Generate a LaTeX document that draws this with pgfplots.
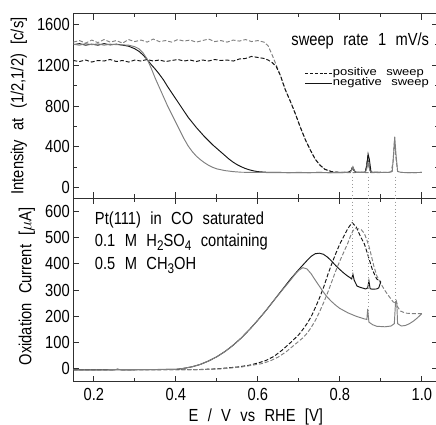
\documentclass[border=0pt]{standalone}
\usepackage{pgfplots}
\pgfplotsset{compat=1.18}
\usepackage{fontspec}
\setmainfont{Liberation Sans}[FakeStretch=0.84,WordSpace=2.3]
\newfontfamily\legfont{Liberation Sans}[FakeStretch=1.18,WordSpace=2.6]
\newcommand{\sub}[1]{\raisebox{-0.45ex}{\fontsize{14}{14}\selectfont #1}}
\definecolor{cblack}{HTML}{151515}
\definecolor{cgray}{HTML}{808080}
\definecolor{cdot}{HTML}{9A9A9A}
\definecolor{caxis}{HTML}{303030}
\pgfplotsset{
  myax/.style={
    scale only axis, width=364.9pt, height=184pt,
    xmin=0.15, xmax=1.04,
    xtick={0.2,0.4,0.6,0.8,1.0}, minor x tick num=1,
    tick align=inside, major tick length=6pt, minor tick length=3.5pt,
    axis line style={line width=1pt,color=caxis},
    every tick/.style={line width=0.9pt, caxis},
    /pgf/number format/assume math mode=true,
    /pgf/number format/1000 sep={},
    every axis plot/.append style={line width=0.95pt},
  },
  blk/.style={cblack},
  gry/.style={cgray},
  dsh/.style={dash pattern=on 4pt off 2pt},
  dot/.style={cdot, line width=1pt, dash pattern=on 1pt off 2.6pt},
}
\begin{document}
\begin{tikzpicture}[font=\fontsize{17.5}{21}\selectfont]
\path[use as bounding box] (0,0) rectangle (436pt,-425pt);

% ---------------- top axis ----------------
\begin{axis}[myax, at={(73.3pt,-14pt)}, anchor=north west,
  ymin=-100, ymax=1700, ytick={0,400,800,1200,1600}, minor y tick num=1,
  xticklabel=\empty,
  ylabel={Intensity at (1/2,1/2) [c/s]},
  ylabel style={at={(axis description cs:-0.149,0.5)}, anchor=center},
  legend style={at={(axis cs:0.714,1167)}, anchor=north west, draw=none, fill=none,
    font=\legfont\fontsize{11}{11}\selectfont, row sep=0pt, inner sep=0pt,
    nodes={inner sep=0.25pt, text height=7pt, text depth=2.5pt}},
  legend cell align=left,
  legend image code/.code={\draw[#1] (0pt,0pt) -- (27pt,0pt);},
]
\addlegendimage{cblack, line width=0.9pt, dash pattern=on 3pt off 1.8pt}
\addlegendimage{cblack, line width=0.9pt}
\legend{positive sweep, negative sweep}

% gray dashed (positive sweep, to 1.0 V)
\addplot[gry,dsh] coordinates {
(0.150,1425) (0.165,1440) (0.180,1415) (0.195,1445) (0.210,1420) (0.225,1450)
(0.240,1425) (0.255,1440) (0.270,1415) (0.285,1450) (0.300,1430) (0.315,1445)
(0.330,1425) (0.345,1455) (0.360,1430) (0.375,1440) (0.390,1425) (0.405,1450)
(0.420,1435) (0.435,1445) (0.450,1425) (0.465,1440) (0.480,1455) (0.495,1430)
(0.510,1440) (0.525,1425) (0.540,1445) (0.555,1435) (0.570,1450) (0.585,1430)
(0.600,1440) (0.615,1425) (0.625,1390) (0.635,1300) (0.645,1200) (0.655,1100)
(0.667,960) (0.680,840) (0.691,730) (0.703,600) (0.716,470) (0.728,370)
(0.740,280) (0.752,220) (0.764,180) (0.780,158) (0.800,150) (0.820,148)
(0.850,150) (0.880,148) (0.910,150) (0.925,155) (0.930,250) (0.933,450)
(0.937,290) (0.941,160) (0.950,150) (0.970,148) (1.000,150)};

% black dashed (positive sweep, to 0.9 V)
\addplot[blk,dsh] coordinates {
(0.150,1245) (0.165,1235) (0.180,1250) (0.195,1230) (0.210,1245) (0.225,1240)
(0.240,1255) (0.255,1235) (0.270,1245) (0.285,1230) (0.300,1250) (0.315,1240)
(0.330,1255) (0.345,1240) (0.360,1250) (0.375,1235) (0.390,1245) (0.405,1255)
(0.420,1240) (0.435,1250) (0.450,1235) (0.465,1250) (0.480,1240) (0.495,1255)
(0.510,1245) (0.525,1250) (0.540,1240) (0.555,1260) (0.570,1265) (0.585,1285)
(0.600,1275) (0.615,1265) (0.625,1250) (0.635,1225) (0.645,1185) (0.655,1100)
(0.667,960) (0.680,840) (0.691,730) (0.703,600) (0.716,470) (0.728,370)
(0.740,280) (0.752,220) (0.764,180) (0.780,158) (0.800,150) (0.820,150)
(0.826,165) (0.830,195) (0.834,170) (0.840,150) (0.860,150) (0.864,180)
(0.868,290) (0.872,200) (0.876,150) (0.900,150)};

% black solid (negative sweep, from 0.9 V)
\addplot[blk] coordinates {
(0.150,1400) (0.165,1410) (0.180,1395) (0.195,1405) (0.210,1395) (0.225,1410)
(0.240,1398) (0.255,1405) (0.270,1395) (0.285,1385) (0.300,1360) (0.310,1335)
(0.320,1300) (0.330,1255) (0.340,1205) (0.350,1160) (0.360,1110) (0.370,1055)
(0.380,990) (0.390,930) (0.400,870) (0.410,810) (0.420,750) (0.430,690)
(0.440,640) (0.450,590) (0.460,545) (0.470,500) (0.480,460) (0.490,420)
(0.500,385) (0.510,350) (0.520,315) (0.530,280) (0.540,250) (0.550,225)
(0.560,205) (0.570,188) (0.580,175) (0.590,165) (0.600,158) (0.620,152)
(0.650,150) (0.700,148) (0.750,150) (0.800,148) (0.825,152) (0.829,180)
(0.832,200) (0.836,165) (0.840,150) (0.862,152) (0.866,220) (0.869,330)
(0.872,280) (0.876,160) (0.880,150) (0.900,150)};

% gray solid (negative sweep, from 1.0 V)
\addplot[gry] coordinates {
(0.150,1405) (0.165,1395) (0.180,1410) (0.195,1400) (0.210,1408) (0.225,1395)
(0.240,1405) (0.255,1400) (0.270,1398) (0.285,1395) (0.300,1380) (0.310,1360)
(0.320,1320) (0.330,1260) (0.340,1170) (0.350,1070) (0.360,980) (0.370,890)
(0.380,800) (0.390,720) (0.400,640) (0.410,560) (0.420,480) (0.430,410)
(0.440,355) (0.450,310) (0.460,275) (0.470,245) (0.480,220) (0.490,200)
(0.500,185) (0.520,168) (0.540,158) (0.560,152) (0.600,150) (0.650,148)
(0.700,150) (0.750,148) (0.800,150) (0.825,150) (0.829,175) (0.832,205)
(0.836,160) (0.840,150) (0.862,150) (0.866,190) (0.869,250) (0.873,170)
(0.878,150) (0.920,150) (0.928,160) (0.931,320) (0.934,500) (0.937,330)
(0.941,160) (0.950,150) (0.970,148) (1.000,150)};

% dotted markers
\addplot[dot] coordinates {(0.832,110) (0.832,-100)};
\addplot[dot] coordinates {(0.870,110) (0.870,-100)};
\addplot[dot] coordinates {(0.937,110) (0.937,-100)};

\node[anchor=base west, inner sep=0pt] at (axis cs:0.6815,1395) {sweep rate 1 mV/s};
\end{axis}

% ---------------- bottom axis ----------------
\begin{axis}[myax, at={(73.3pt,-198pt)}, anchor=north west,
  ymin=-50, ymax=650, ytick={0,100,...,600},
  xticklabel style={yshift=-2.5pt, /pgf/number format/fixed,
    /pgf/number format/fixed zerofill, /pgf/number format/precision=1},
  ylabel={Oxidation Current [$\mu$A]},
  ylabel style={at={(axis description cs:-0.127,0.52)}, anchor=center},
  xlabel={E / V vs RHE [V]},
  xlabel style={at={(axis description cs:0.5,-0.192)}, anchor=center},
]
% black dashed (positive sweep, to 0.9 V)
\addplot[blk,dsh] coordinates {
(0.150,-3) (0.300,-3) (0.450,-3) (0.500,0) (0.550,7) (0.580,14) (0.600,22)
(0.620,32) (0.640,48) (0.660,72) (0.680,100) (0.700,130) (0.710,150)
(0.720,172) (0.730,198) (0.740,232) (0.750,268) (0.760,308) (0.770,355)
(0.780,398) (0.790,438) (0.800,475) (0.810,505) (0.820,535) (0.830,556)
(0.840,540) (0.850,505) (0.860,475) (0.867,441) (0.875,400) (0.880,375)
(0.890,342) (0.900,332)};

% gray dashed (positive sweep, to 1.0 V)
\addplot[gry,dsh] coordinates {
(0.150,-3) (0.460,-3) (0.510,0) (0.560,7) (0.610,20) (0.630,30) (0.650,45)
(0.670,66) (0.690,92) (0.710,118) (0.720,135) (0.730,157) (0.740,183)
(0.750,215) (0.760,250) (0.770,288) (0.780,330) (0.790,372) (0.800,410)
(0.810,445) (0.820,480) (0.826,505) (0.832,525) (0.838,535) (0.845,533)
(0.852,530) (0.860,515) (0.866,490) (0.871,467) (0.877,430) (0.883,391)
(0.890,355) (0.899,327) (0.910,298) (0.920,276) (0.930,255) (0.936,250)
(0.938,258) (0.941,236) (0.948,220) (0.960,212) (0.980,210) (1.000,210)};

% black solid (negative sweep, from 0.9 V)
\addplot[blk] coordinates {
(0.150,-4) (0.250,-4) (0.258,-1) (0.266,-4) (0.400,-2) (0.420,2) (0.440,8)
(0.460,17) (0.480,30) (0.500,46) (0.520,66) (0.540,90) (0.560,118)
(0.580,150) (0.600,185) (0.620,222) (0.640,262) (0.660,302) (0.680,342)
(0.700,378) (0.710,395) (0.720,412) (0.730,428) (0.740,438) (0.750,440)
(0.760,436) (0.770,425) (0.780,410) (0.790,393) (0.800,378) (0.810,364)
(0.820,352) (0.826,346) (0.829,342) (0.832,360) (0.835,338) (0.842,315)
(0.850,310) (0.863,304) (0.868,308) (0.871,335) (0.874,305) (0.879,303)
(0.890,304) (0.895,308) (0.900,332)};

% gray solid (negative sweep, from 1.0 V)
\addplot[gry] coordinates {
(0.150,-4) (0.400,-2) (0.420,2) (0.440,8) (0.460,17) (0.480,30) (0.500,46)
(0.520,66) (0.540,90) (0.560,118) (0.580,150) (0.600,185) (0.620,222)
(0.640,262) (0.660,300) (0.680,338) (0.690,358) (0.700,375) (0.710,385)
(0.720,380) (0.730,362) (0.740,338) (0.750,315) (0.760,292) (0.770,272)
(0.780,256) (0.790,242) (0.800,230) (0.820,213) (0.840,200) (0.860,190)
(0.866,188) (0.868,228) (0.871,178) (0.880,168) (0.890,162) (0.910,160)
(0.925,163) (0.933,172) (0.936,255) (0.939,250) (0.941,172) (0.950,163)
(0.960,165) (0.970,172) (0.980,182) (0.990,195) (1.000,210)};

% dotted markers
\addplot[dot] coordinates {(0.832,650) (0.832,342)};
\addplot[dot] coordinates {(0.870,650) (0.870,200)};
\addplot[dot] coordinates {(0.937,650) (0.937,255)};

\node[anchor=base west, inner sep=0pt] at (axis cs:0.2024,549) {Pt(111) in CO saturated};
\node[anchor=base west, inner sep=0pt] at (axis cs:0.2024,467) {0.1 M H\sub{2}SO\sub{4} containing};
\node[anchor=base west, inner sep=0pt] at (axis cs:0.2024,378) {0.5 M CH\sub{3}OH};
\end{axis}
\end{tikzpicture}
\end{document}
